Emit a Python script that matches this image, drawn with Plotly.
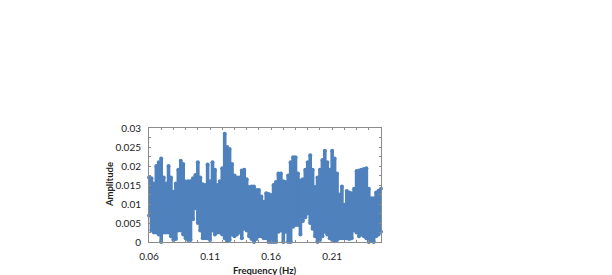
import plotly.graph_objects as go

freq_hz = [0.060, 0.062, 0.064, 0.066, 0.068, 0.070, 0.072, 0.074, 0.076, 0.078,
           0.080, 0.082, 0.084, 0.086, 0.088, 0.090, 0.092, 0.094, 0.096, 0.098,
           0.100, 0.102, 0.104, 0.106, 0.108, 0.110, 0.112, 0.114, 0.116, 0.118,
           0.120, 0.122, 0.124, 0.126, 0.128, 0.130, 0.132, 0.134, 0.136, 0.138,
           0.140, 0.142, 0.144, 0.146, 0.148, 0.150, 0.152, 0.154, 0.156, 0.158,
           0.160, 0.162, 0.164, 0.166, 0.168, 0.170, 0.172, 0.174, 0.176, 0.178,
           0.180, 0.182, 0.184, 0.186, 0.188, 0.190, 0.192, 0.194, 0.196, 0.198,
           0.200, 0.202, 0.204, 0.206, 0.208, 0.210, 0.212, 0.214, 0.216, 0.218,
           0.220, 0.222, 0.224, 0.226, 0.228, 0.230, 0.232, 0.234, 0.236, 0.238,
           0.240, 0.242, 0.244, 0.246, 0.248, 0.250]

amp_high = [17.0, 16.8, 15.4, 20.0, 21.0, 22.0, 17.0, 15.4, 20.0, 17.0,
            13.2, 15.4, 19.0, 21.4, 20.5, 15.9, 16.0, 16.0, 16.8, 17.6,
            21.0, 17.0, 15.2, 15.0, 20.4, 16.0, 21.0, 19.0, 15.0, 16.0,
            19.4, 28.5, 25.0, 24.5, 20.5, 17.5, 17.0, 17.0, 18.8, 19.0,
            16.5, 14.5, 14.6, 14.6, 13.7, 13.7, 12.0, 10.6, 12.8, 12.6,
            12.4, 15.0, 15.8, 18.0, 18.0, 16.0, 15.8, 17.5, 21.0, 22.3,
            22.3, 18.0, 16.2, 16.5, 19.0, 21.0, 22.8, 19.0, 14.5, 17.0,
            19.0, 21.6, 24.0, 21.0, 19.0, 24.0, 22.0, 18.0, 12.5, 14.6,
            9.8, 13.4, 13.0, 12.8, 14.0, 18.7, 18.8, 19.0, 19.2, 19.4,
            14.0, 11.5, 11.5, 13.0, 13.5, 14.0]

amp_low = [7.0, 3.0, 2.5, 2.5, 2.0, 0.0, 2.5, 2.5, 2.5, 1.5,
           0.5, 0.8, 3.0, 3.0, 2.0, 1.0, 0.5, 0.5, 6.0, 8.9,
           5.0, 3.0, 1.0, 1.0, 1.0, 0.5, 3.0, 2.0, 2.5, 2.5,
           2.0, 1.0, 0.2, 0.5, 2.0, 1.5, 2.0, 2.5, 1.0, 3.5,
           3.0, 1.5, 0.8, 0.0, 0.8, 1.5, 1.5, 1.0, 1.0, 0.0,
           0.0, 0.0, 0.0, 2.7, 3.0, 0.0, 2.7, 0.0, 0.0, 4.0,
           4.5, 4.5, 2.0, 5.5, 6.5, 7.5, 5.0, 3.5, 1.5, 0.0,
           0.5, 1.5, 2.7, 2.0, 1.0, 0.5, 0.2, 0.5, 1.0, 1.0,
           1.0, 1.0, 0.8, 1.0, 3.0, 2.5, 1.5, 2.0, 1.5, 1.0,
           0.0, 0.5, 0.0, 1.5, 2.0, 2.7]

x_ticks = [0.06, 0.11, 0.16, 0.21]
y_ticks = [0, 0.005, 0.01, 0.015, 0.02, 0.025, 0.03]
y_labels = ["0", "0.005", "0.01", "0.015", "0.02", "0.025", "0.03"]
BLUE = "#4F81BD"
FONT = "Lato"

xs, ys = [], []
for f, hi, lo in zip(freq_hz, amp_high, amp_low):
    xs += [f, f, None]
    ys += [hi / 1000, lo / 1000, None]

fig = go.Figure(go.Scatter(
    x=xs, y=ys, mode="lines+markers", cliponaxis=False,
    line=dict(color=BLUE, width=3.6),
    marker=dict(color=BLUE, size=4),
    showlegend=False,
))

axis_common = dict(showgrid=False, zeroline=False, showline=True, linecolor="#8c8c8c",
                   linewidth=1, mirror="ticks", ticks="inside", ticklen=2, automargin=False,
                   tickcolor="#8c8c8c", tickfont=dict(family=FONT, size=10, color="#222"))
fig.update_xaxes(range=[0.06, 0.25], tickvals=x_ticks, ticktext=[f"{v:.2f}" for v in x_ticks],
                 ticklabelstandoff=5,
                 minor=dict(dtick=0.01, tick0=0.06, ticks="inside", ticklen=2, tickcolor="#8c8c8c"),
                 **axis_common)
fig.update_yaxes(range=[0, 0.03], tickvals=y_ticks, ticktext=y_labels,
                 ticklabelstandoff=5,
                 minor=dict(dtick=0.0025, ticks="inside", ticklen=2, tickcolor="#8c8c8c"),
                 **axis_common)
title_font = dict(family=FONT, size=9.5, color="#222")
fig.add_annotation(text="<b>Frequency (Hz)</b>", xref="paper", yref="paper", x=0.5, y=-0.246,
                   xanchor="center", yanchor="middle", showarrow=False, font=title_font)
fig.add_annotation(text="<b>Amplitude</b>", xref="paper", yref="paper", x=-0.172, y=0.5,
                   xanchor="center", yanchor="middle", textangle=-90, showarrow=False, font=title_font)
fig.update_layout(width=612, height=275, autosize=False, paper_bgcolor="white",
                  plot_bgcolor="white",
                  margin=dict(l=141, r=239, t=120, b=41))
fig.write_html("out.html")
